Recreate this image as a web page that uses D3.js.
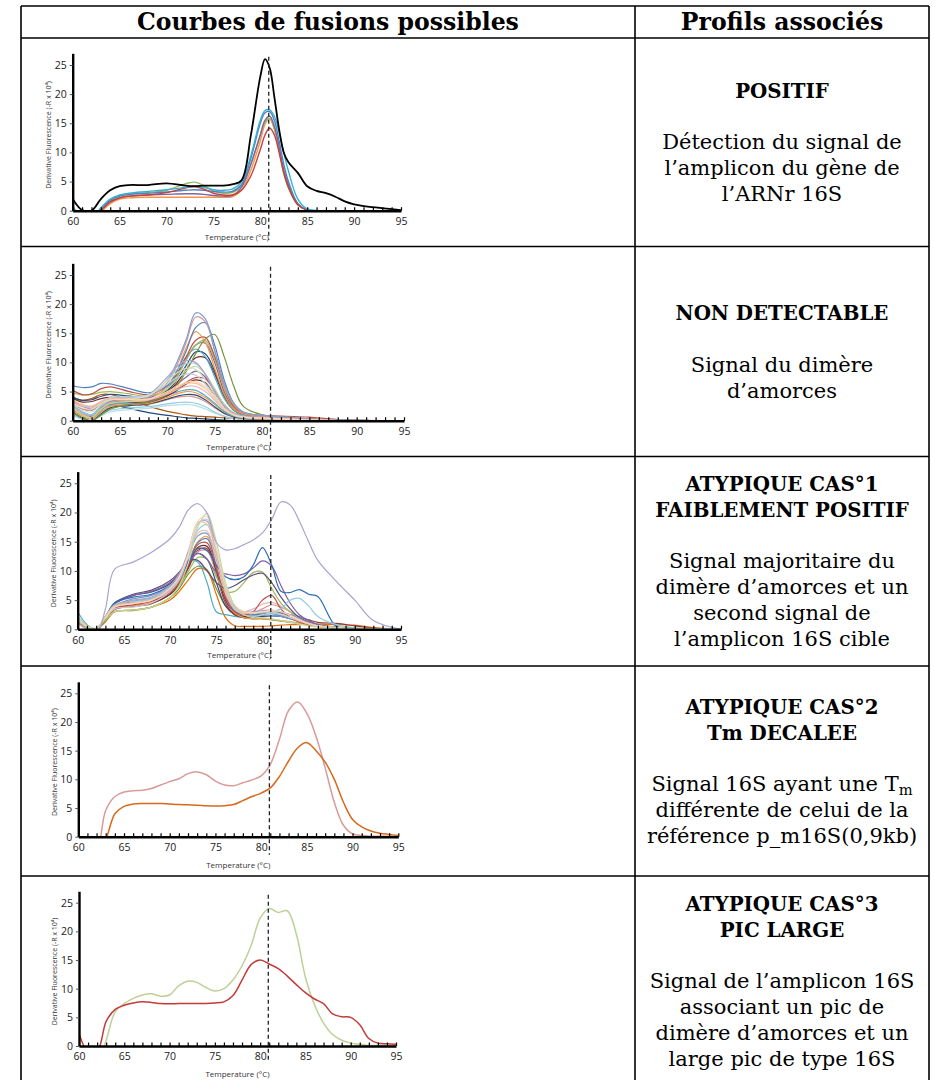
<!DOCTYPE html>
<html lang="fr">
<head>
<meta charset="UTF-8">
<title>Courbes de fusions possibles</title>
<script src="https://cdn.jsdelivr.net/npm/d3@7"></script>
<style>
  body { margin: 0; background: #fff; }
</style>
</head>
<body>
<div id="chart"></div>
<script>
// ---------- texts ----------
const headers = ["Courbes de fusions possibles", "Profils associés"];
const titles = [
  ["POSITIF"],
  ["NON DETECTABLE"],
  ["ATYPIQUE CAS°1", "FAIBLEMENT POSITIF"],
  ["ATYPIQUE CAS°2", "Tm DECALEE"],
  ["ATYPIQUE CAS°3", "PIC LARGE"]
];
const descriptions = [
  ["Détection du signal de", "l’amplicon du gène de", "l’ARNr 16S"],
  ["Signal du dimère", "d’amorces"],
  ["Signal majoritaire du", "dimère d’amorces et un", "second signal de", "l’amplicon 16S cible"],
  ["Signal 16S ayant une T{m}", "différente de celui de la", "référence p_m16S(0,9kb)"],
  ["Signal de l’amplicon 16S", "associant un pic de", "dimère d’amorces et un", "large pic de type 16S"]
];
const xTicks = [60, 65, 70, 75, 80, 85, 90, 95];
const xMinor = [60,61,62,63,64,65,66,67,68,69,70,71,72,73,74,75,76,77,78,79,80,81,82,83,84,85,86,87,88,89,90,91,92,93,94,95];
const yTicks = [0, 5, 10, 15, 20, 25];
const xLabel = "Temperature (°C)";
const yLabel = "Derivative Fluorescence (-R x 10⁴)";
const refTm = 80.9;

// ---------- panel 1 : POSITIF ----------
const temps1 = [60,61,62,63,64,65,66,68,70,72,73,74,75,76,77,78,79,80,80.5,81,81.5,82,82.5,83,84,85,86,87,88,89,90,92,95];
const values1 = [
  [0.2,-1,-1.5,-0.2,1.2,2.0,2.2,2.3,2.3,2.3,2.3,2.3,2.3,2.3,2.4,3.5,7.0,12.0,14.8,15.8,14.0,10.5,6.5,4.0,1.0,0.1,0,0,0,0,0,0,0],
  [0.5,-1,-1.5,0.2,1.8,2.5,2.8,3.1,3.5,4.6,4.9,4.3,3.4,3.0,3.1,4.2,8.0,13.0,15.2,15.8,14.0,10.5,6.5,4.0,1.0,0.1,0,0,0,0,0,0,0],
  [0.3,-1,-1.5,0,1.5,2.2,2.5,2.7,2.8,2.9,2.9,2.8,2.6,2.5,2.6,4.0,8.0,13.0,15.5,16.2,14.5,11.0,7.0,4.5,1.2,0.1,0,0,0,0,0,0,0],
  [0.5,-1,-1.5,0.3,1.8,2.5,2.8,3.0,3.2,3.5,3.6,3.5,3.3,3.2,3.3,4.5,9.0,15.0,16.8,17.0,15.5,12.0,8.0,5.0,1.2,0.1,0,0,0,0,0,0,0],
  [0.3,-1,-1.5,0,1.5,2.2,2.5,2.7,3.1,3.9,4.1,3.7,3.0,2.7,2.7,3.5,6.0,10.5,13.0,14.2,13.0,10.0,6.5,4.0,1.0,0.1,0,0,0,0,0,0,0],
  [0.7,-1,-1.5,0.5,2.0,2.7,3.0,3.3,3.6,4.0,4.2,4.0,3.6,3.5,3.7,5.0,9.5,15.5,17.2,17.3,16.2,13.5,10.0,6.8,2.0,0.3,0.05,0,0,0,0,0,0],
  [2.0,0.1,0,2.0,3.5,4.2,4.4,4.4,4.7,4.3,4.2,4.3,4.3,4.3,4.5,5.2,13.0,23.0,26.0,24.5,19.5,14.0,10.0,8.3,6.5,4.2,3.4,3.0,2.4,1.6,1.1,0.6,0.1]
];
const colors1 = ["#f79646", "#9bbb59", "#8064a2", "#4f81bd", "#c8403c", "#38b0d6", "#000000"];

// ---------- panel 2 : NON DETECTABLE ----------
const temps2 = [60,61,62,63,64,66,68,70,71,72,73,74,75,76,77,78,80,82,85,88,95];
const values2 = [
  [1.5,0.5,0.8,2.3,2.7,2.1,1.4,0.9,0.7,0.5,0.4,0.3,0.2,0.1,0,0,0,0,0,0,0],
  [4.0,3.5,3.8,4.5,4.5,3.5,2.5,1.6,1.3,1.0,0.8,0.7,0.6,0.5,0.4,0.3,0.2,0.1,0,0,0],
  [1.0,0.2,0,0.8,1.5,1.9,2.1,2.6,2.7,2.8,2.6,2.0,1.3,0.7,0.4,0.2,0.1,0,0,0,0],
  [1.2,0.3,0,1.0,1.8,2.2,2.4,2.9,3.1,3.2,3.0,2.4,1.5,0.8,0.4,0.3,0.2,0.1,0,0,0],
  [2.0,1.0,0.5,1.5,2.3,2.6,2.8,3.6,4.0,4.2,4.0,3.3,2.2,1.2,0.6,0.4,0.3,0.2,0,0,0],
  [1.5,0.5,0,1.2,2.2,2.6,2.9,3.7,4.2,4.5,4.4,3.6,2.4,1.3,0.7,0.4,0.3,0.2,0,0,0],
  [1.8,0.8,0.3,1.5,2.5,2.8,3.0,4.0,4.6,5.0,4.8,4.0,2.8,1.5,0.8,0.5,0.3,0.2,0.1,0,0],
  [2.0,1.0,0.5,1.8,2.8,3.0,3.2,4.3,4.9,5.3,5.2,4.3,3.0,1.6,0.8,0.5,0.4,0.2,0.1,0,0],
  [2.8,2.0,1.8,2.8,3.3,3.2,3.2,4.3,5.2,6.3,7.0,6.5,4.5,2.3,1.1,0.7,0.5,0.3,0.1,0,0],
  [3.2,2.5,2.3,3.0,3.5,3.4,3.4,4.5,5.5,6.6,7.4,7.2,5.2,2.8,1.3,0.8,0.6,0.4,0.2,0,0],
  [2.5,1.5,1.0,2.2,3.0,3.2,3.4,5.0,6.2,7.5,8.5,7.5,5.0,2.5,1.2,0.7,0.5,0.3,0.1,0,0],
  [3.8,3.2,3.3,3.8,4.0,3.8,3.8,5.0,6.5,8.8,10.8,10.8,8.0,4.2,1.8,1.0,0.8,0.6,0.3,0.1,0],
  [4.0,3.5,3.6,4.2,4.5,4.2,4.0,5.2,7.0,9.5,11.8,11.5,8.5,4.5,2.0,1.0,0.7,0.4,0.2,0,0],
  [2.8,1.5,1.0,2.5,3.3,3.6,3.8,5.5,8.0,11.0,12.3,11.0,7.5,3.8,1.8,1.0,0.7,0.4,0.2,0,0],
  [3.5,2.5,2.0,3.0,3.8,3.9,4.0,5.5,7.5,10.5,13.0,13.3,10.0,5.0,2.2,1.1,0.8,0.5,0.2,0,0],
  [4.8,4.4,4.5,4.9,5.0,4.6,4.2,5.5,7.5,10.5,13.0,13.8,10.5,5.5,2.3,1.2,0.8,0.5,0.3,0.1,0],
  [5.2,4.5,4.6,5.5,5.8,5.0,4.5,6.0,8.0,11.0,13.8,14.3,11.0,6.0,2.5,1.3,0.9,0.8,0.6,0.2,0],
  [1.5,0.5,0,1.0,2.0,2.8,3.2,4.5,6.0,8.5,11.5,14.0,14.8,11.0,6.0,2.5,1.0,0.6,0.3,0.1,0],
  [2.0,1.0,0.5,2.0,3.0,3.3,3.5,6.0,8.5,12.5,15.3,13.5,9.0,4.5,2.0,1.2,0.8,0.5,0.2,0,0],
  [6.0,5.7,5.8,6.4,6.3,5.5,4.8,6.0,8.5,12.0,16.0,16.8,13.0,7.0,3.0,1.5,0.9,0.6,0.3,0.1,0],
  [2.5,1.2,0.8,2.2,3.2,3.6,4.0,6.5,9.5,13.5,17.8,17.0,12.0,6.0,2.8,1.4,0.9,0.6,0.3,0.1,0],
  [3.0,1.5,1.0,2.5,3.5,3.8,4.2,7.0,10.0,14.0,18.5,17.5,12.0,6.5,3.0,1.5,0.9,0.6,0.3,0.1,0],
  [2.2,1.0,0.5,2.0,3.0,3.3,3.6,5.5,7.0,8.6,9.3,8.0,5.5,2.8,1.3,0.8,0.5,0.3,0.1,0,0],
  [2.5,1.5,1.0,2.5,3.5,3.8,4.3,7.0,8.8,9.8,9.8,8.0,5.0,2.5,1.2,0.7,0.5,0.3,0.1,0,0],
  [3.0,2.0,1.8,3.0,3.8,4.0,4.5,7.5,9.3,10.3,10.0,8.0,5.0,2.5,1.2,0.8,0.6,0.4,0.2,0,0],
  [3.3,2.5,2.3,3.3,4.0,4.1,4.4,6.3,7.4,8.0,7.8,6.3,4.0,2.0,1.0,0.6,0.4,0.3,0.1,0,0],
  [2.8,1.8,1.5,2.8,3.6,3.8,4.3,6.8,8.2,9.0,8.8,7.0,4.5,2.2,1.0,0.6,0.4,0.3,0.1,0,0],
  [3.5,2.8,2.5,3.3,3.8,3.7,3.7,4.8,5.6,6.4,6.4,5.5,3.8,2.0,1.0,0.6,0.5,0.3,0.1,0,0],
  [3.2,2.6,2.4,3.2,3.7,3.6,3.6,4.6,5.3,5.9,5.9,5.0,3.5,1.9,1.0,0.6,0.4,0.3,0.1,0,0],
  [3.0,2.2,2.0,3.0,3.6,3.6,3.7,5.0,5.9,6.6,6.7,5.8,4.0,2.1,1.0,0.6,0.5,0.3,0.1,0,0]
];
const colors2 = ["#1f497d","#b65708","#b7dee8","#93cddd","#d99694","#2c4d75","#f79646","#4bacc6",
  "#772c2a","#c0504d","#8064a2","#772c2a","#2c4d75","#4bacc6","#8064a2","#9bbb59","#c0504d","#77933c",
  "#f79646","#4f81bd","#d99694","#7f9fcf","#c3d69b","#93cddd","#b3a2c7","#b9cde5","#d7e4bd","#fac090",
  "#e6b9b8","#fcd5b5"];

// ---------- panel 3 : ATYPIQUE CAS 1 ----------
const temps3 = [60,61,62,63,64,66,68,70,71,72,73,74,75,76,77,78,79,80,81,82,83,84,85,86,88,90,92,95];
const values3 = [
  [1.4,0.4,0,1.4,3.0,3.3,3.8,5.4,7.0,9.5,10.8,10.2,7.0,4.0,2.5,2.0,1.8,1.8,1.6,1.4,1.2,1.0,0.7,0.5,0.2,0.1,0,0],
  [1.2,0.3,0,1.3,3.0,3.3,3.8,5.0,6.5,8.5,10.4,10.0,6.0,2.0,0.6,0.5,0.5,0.5,0.6,0.7,0.8,0.8,0.9,0.9,0.8,0.7,0.3,0],
  [3.0,0.8,0,2.2,4.0,4.5,5.0,7.0,9.0,11.5,11.5,8.0,3.0,2.5,2.2,2.0,2.0,2.5,2.7,2.3,1.8,1.3,0.9,0.5,0.2,0,0,0],
  [1.8,0.5,0.1,2.0,4.5,5.8,6.4,7.8,9.5,11.8,13.0,12.0,8.0,4.0,2.5,2.0,2.0,2.2,2.3,2.2,1.8,1.4,1.0,0.6,0.3,0.1,0,0],
  [1.5,0.4,0.1,1.6,3.4,3.9,4.4,6.0,7.5,10.5,13.5,13.8,9.5,4.5,2.5,2.2,2.2,2.6,3.0,2.8,2.4,2.0,1.6,1.2,1.0,0.6,0.2,0],
  [1.6,0.4,0.1,1.8,3.7,4.5,5.0,6.6,8.2,11.0,13.3,13.4,9.5,5.0,3.0,2.6,2.8,3.5,4.2,3.8,3.0,2.0,1.3,0.8,0.4,0.1,0,0],
  [1.5,0.4,0.1,1.6,3.5,4.0,4.5,6.0,7.8,10.8,14.0,14.2,10.0,5.0,2.8,2.2,2.3,2.8,3.0,2.5,2.0,1.5,1.0,0.6,0.3,0.1,0,0],
  [1.6,0.4,0.1,1.7,3.5,4.0,4.6,6.4,8.2,11.5,15.0,15.9,11.0,5.5,2.8,2.0,1.8,1.8,1.7,1.5,1.3,1.0,0.7,0.5,0.3,0.1,0,0],
  [1.6,0.4,0.1,1.7,3.8,4.8,5.3,6.8,8.5,11.5,14.8,15.5,11.0,5.5,3.0,2.5,2.5,2.8,3.0,2.8,2.5,2.2,1.5,0.8,0.3,0.1,0,0],
  [1.7,0.5,0.1,1.9,4.0,5.2,5.8,7.4,9.3,12.5,16.0,16.4,12.0,6.0,3.2,2.6,2.4,2.4,2.4,2.2,1.8,1.4,1.0,0.6,0.3,0.1,0,0],
  [1.8,0.5,0.1,1.9,3.8,4.3,4.8,6.8,8.8,12.5,16.5,16.8,11.5,6.0,3.5,3.0,3.5,4.3,4.6,4.0,3.0,2.0,1.2,0.7,0.3,0.1,0,0],
  [1.7,0.5,0.1,1.8,3.6,4.2,4.8,6.3,8.0,11.0,14.5,14.8,10.5,5.5,3.0,2.5,3.0,5.0,5.8,3.5,2.0,1.2,0.8,0.5,0.3,0.1,0,0],
  [1.5,0.4,0.1,1.5,3.0,3.2,3.8,5.5,7.5,10.0,12.3,12.0,9.0,6.5,6.5,8.0,9.7,9.8,7.0,4.5,3.0,2.0,1.2,0.7,0.3,0.1,0,0],
  [1.7,0.5,0.1,2.0,4.5,6.0,6.7,8.3,9.8,11.8,11.8,10.0,8.0,7.0,7.5,8.5,9.3,9.6,8.0,5.5,3.5,2.0,1.2,0.7,0.3,0.1,0,0],
  [1.8,0.5,0.1,2.0,4.3,5.8,6.5,8.0,9.5,11.5,13.0,12.0,9.8,9.5,9.2,9.5,10.5,11.7,10.8,7.5,4.5,2.5,1.5,0.8,0.3,0.1,0,0],
  [2.0,0.6,0.1,2.2,4.5,5.5,6.0,7.5,9.0,11.5,13.8,13.5,11.0,9.0,8.5,9.0,11.0,14.0,11.0,6.5,6.3,6.8,6.0,5.6,0.5,0.2,0,0],
  [2.2,0.6,0.1,2.2,4.2,4.8,5.3,7.2,9.2,13.0,17.0,17.9,13.0,7.5,4.0,3.0,2.8,2.8,3.0,3.5,5.0,5.3,4.0,2.2,0.8,0.3,0.1,0],
  [1.9,0.5,0.1,2.0,4.0,5.0,5.5,7.5,9.5,13.5,18.2,18.5,13.0,7.0,3.8,3.0,3.0,3.2,3.3,3.0,2.5,1.8,1.1,0.6,0.3,0.1,0,0],
  [2.0,0.6,0.1,2.2,4.0,4.5,5.0,7.0,9.0,13.0,18.3,18.0,12.5,6.5,3.5,2.8,2.8,3.0,3.0,2.6,2.0,1.4,0.9,0.6,0.3,0.1,0,0],
  [1.8,0.5,0.1,2.0,3.5,3.8,4.5,6.5,8.5,12.5,18.0,18.8,13.5,7.0,3.5,2.5,2.2,2.5,2.8,2.5,2.0,1.5,1.0,0.6,0.3,0.1,0,0],
  [1.8,0.5,0.1,2.0,3.8,4.4,5.0,7.0,9.0,13.0,18.5,19.3,14.0,7.5,4.0,3.0,2.8,3.0,3.2,3.0,2.4,1.6,1.0,0.6,0.3,0.1,0,0],
  [1.5,0.4,0.2,1.8,3.0,3.3,3.8,5.5,7.5,11.5,17.5,19.8,15.0,8.0,4.0,2.5,2.0,2.0,1.8,1.5,1.2,0.9,0.6,0.4,0.2,0.1,0,0],
  [1.0,0,-1,3.5,10.3,11.5,13.2,15.5,17.5,20.5,21.5,19.9,14.9,13.6,13.8,14.5,15.3,16.5,18.8,21.8,21.3,18.5,15.0,11.8,8.2,5.0,1.5,0]
];
const colors3 = ["#77933c","#e46c0a","#4bacc6","#2c4d75","#943634","#d99694","#772c2a","#f79646","#4f81bd",
  "#729aca","#e6b9b8","#c0504d","#9bbb59","#604a7b","#7f5fa8","#2e6db4","#93cddd","#b3a2c7","#fac090",
  "#b9cde5","#fcd5b5","#c3d69b","#a9a3d1"];

// ---------- panels 4 and 5 ----------
const temps45 = [60,61,62,63,64,65,66,67,68,69,70,71,72,73,74,75,76,77,78,79,80,81,82,83,84,85,86,87,88,89,90,91,92,93,94,95];
const values4 = [
  [0,-2,-2,4.6,7.0,7.8,8.0,8.1,8.4,9.0,9.6,10.1,11.0,11.3,10.8,9.7,9.0,8.9,9.4,9.9,10.6,12.6,17.0,22.0,23.5,21.5,17.5,12.0,6.0,2.0,0.5,0.2,0.1,0.1,0.1,0.1],
  [-2,-3,-3,-0.5,4.0,5.3,5.7,5.8,5.8,5.8,5.7,5.6,5.55,5.5,5.4,5.35,5.4,5.6,6.3,7.0,7.6,8.5,10.5,13.2,15.5,16.4,15.0,13.0,10.0,6.0,3.0,1.7,1.0,0.6,0.4,0.2]
];
const colors4 = ["#d99a98", "#d8691c"];
const values5 = [
  [-3,-3,-3,1.0,6.0,7.4,8.3,8.9,9.1,8.7,8.9,10.5,11.3,11.1,10.2,9.6,10.0,11.5,14.0,17.5,22.3,24.0,23.3,23.6,19.5,12.0,7.2,4.0,2.0,1.0,0.5,0.3,0.1,0.1,0.1,0.1],
  [2.2,-1,-1,4.3,6.4,7.1,7.5,7.7,7.6,7.4,7.35,7.4,7.4,7.4,7.4,7.5,7.7,8.8,11.5,14.2,15.0,14.3,13.5,12.2,10.7,9.3,8.2,7.4,5.6,5.1,5.0,3.7,1.3,0.5,0.4,0.3]
];
const colors5 = ["#bdd197", "#c43a3a"];

// ---------- layout ----------
const W = 935, H = 1080;
const serif = "'DejaVu Serif', 'Liberation Serif', serif";
const sans = "'Open Sans', 'DejaVu Sans', sans-serif";
const tbl = { left: 21, right: 929, top: 6, head: 38, split: 635, rows: [38, 246.5, 456.5, 666, 876, 1086] };
const panels = [
  { x0: 72.7, x1: 401, y0: 210.7, y25: 65, below: 29 },
  { x0: 72.7, x1: 404, y0: 420.7, y25: 275, below: 29 },
  { x0: 77.7, x1: 401, y0: 629.3, y25: 483.3, below: 29 },
  { x0: 78.3, x1: 398.3, y0: 836.7, y25: 693.3, below: 18 },
  { x0: 79, x1: 396, y0: 1046, y25: 902.7, below: 16 }
];

const svg = d3.select("#chart").append("svg").attr("width", W).attr("height", H);

function fitSize(text, weight, target) {
  const t = svg.append("text").attr("font-family", serif).attr("font-weight", weight)
    .attr("font-size", 20).text(text);
  const w = t.node().getComputedTextLength();
  t.remove();
  return 20 * target / w;
}
const headSize = fitSize(headers[0], "bold", 382);
const titleSize = fitSize("FAIBLEMENT POSITIF", "bold", 254);
const bodySize = fitSize("dimère d’amorces et un", "normal", 253);

// table grid
const grid = svg.append("g").attr("stroke", "#000").attr("stroke-width", 1.6);
[tbl.top, ...tbl.rows.slice(0, 5)].forEach(yy => {
  grid.append("line").attr("x1", tbl.left).attr("x2", tbl.right).attr("y1", yy).attr("y2", yy);
});
[tbl.left, tbl.split, tbl.right].forEach(xx => {
  grid.append("line").attr("x1", xx).attr("x2", xx).attr("y1", tbl.top).attr("y2", H);
});

// header
svg.selectAll(".head").data(headers).join("text")
  .attr("x", (d, i) => i === 0 ? (tbl.left + tbl.split) / 2 : (tbl.split + tbl.right) / 2)
  .attr("y", (tbl.top + tbl.head) / 2).attr("dy", "0.36em")
  .attr("text-anchor", "middle").attr("font-family", serif).attr("font-weight", "bold")
  .attr("font-size", headSize).text(d => d);

// right column texts
const cx = (tbl.split + tbl.right) / 2;
const lineH = 26, gap = 51;
titles.forEach((tl, i) => {
  const desc = descriptions[i];
  const block = (tl.length - 1) * lineH + gap + (desc.length - 1) * lineH;
  const rowMid = (tbl.rows[i] + tbl.rows[i + 1]) / 2;
  const start = rowMid - block / 2;
  tl.forEach((s, k) => {
    svg.append("text").attr("x", cx).attr("y", start + k * lineH).attr("dy", "0.36em")
      .attr("text-anchor", "middle").attr("font-family", serif).attr("font-weight", "bold")
      .attr("font-size", titleSize).text(s);
  });
  const b0 = start + (tl.length - 1) * lineH + gap;
  desc.forEach((s, k) => {
    const t = svg.append("text").attr("x", cx).attr("y", b0 + k * lineH).attr("dy", "0.36em")
      .attr("text-anchor", "middle").attr("font-family", serif).attr("font-size", bodySize);
    s.split(/(\{[^}]+\})/).filter(p => p.length).forEach(p => {
      if (p[0] === "{") {
        t.append("tspan").attr("font-size", bodySize * 0.7).attr("dy", "0.3em").text(p.slice(1, -1));
      } else {
        t.append("tspan").text(p);
      }
    });
  });
});

// charts
function drawPanel(i, temps, values, colors, width) {
  const p = panels[i];
  const pxPerUnit = (p.y0 - p.y25) / 25;
  const x = d3.scaleLinear().domain([60, 95]).range([p.x0, p.x1]);
  const y = d3.scaleLinear().domain([0, 27]).range([p.y0, p.y0 - 27 * pxPerUnit]);
  const g = svg.append("g");

  g.append("clipPath").attr("id", "clip" + i).append("rect")
    .attr("x", p.x0).attr("y", y(30)).attr("width", p.x1 - p.x0).attr("height", p.y0 - y(30));

  const line = d3.line()
    .x((d, j) => x(temps[j]))
    .y(d => y(d))
    .curve(d3.curveCatmullRom.alpha(0.5));

  g.append("g").attr("clip-path", `url(#clip${i})`)
    .selectAll("path").data(values).join("path")
    .attr("d", line).attr("fill", "none")
    .attr("stroke", (d, j) => colors[j])
    .attr("stroke-width", (d, j) => colors[j] === "#000000" ? 1.8 : width);

  // reference Tm
  g.append("line")
    .attr("x1", x(refTm)).attr("x2", x(refTm))
    .attr("y1", y(26.4)).attr("y2", p.y0 + p.below)
    .attr("stroke", "#222").attr("stroke-width", 1.3).attr("stroke-dasharray", "4,3");

  // x axis : minor ticks then labels
  const xa = g.append("g").attr("transform", `translate(0,${p.y0})`)
    .call(d3.axisBottom(x).tickValues(xMinor).tickSizeInner(-3.5).tickSizeOuter(0).tickFormat(""));
  xa.select(".domain").attr("stroke", "#000").attr("stroke-width", 2.4);
  xa.selectAll(".tick line").attr("stroke", "#000").attr("stroke-width", 1.2);

  const xl = g.append("g").attr("transform", `translate(0,${p.y0})`)
    .call(d3.axisBottom(x).tickValues(xTicks).tickSize(0).tickPadding(7));
  xl.select(".domain").remove();
  xl.selectAll("text").attr("font-family", sans).attr("font-size", 10.5).attr("fill", "#222");

  // y axis
  const ya = g.append("g").attr("transform", `translate(${p.x0},0)`)
    .call(d3.axisLeft(y).tickValues(yTicks).tickSizeInner(3).tickSizeOuter(0).tickPadding(3));
  ya.select(".domain").attr("stroke", "#000").attr("stroke-width", 2.4);
  ya.selectAll(".tick line").attr("stroke", "#555");
  ya.selectAll("text").attr("font-family", sans).attr("font-size", 10.5).attr("fill", "#222");

  g.append("text")
    .attr("x", (p.x0 + p.x1) / 2).attr("y", p.y0 + (i < 3 ? 26 : 28)).attr("dy", "0.35em")
    .attr("text-anchor", "middle").attr("font-family", sans).attr("font-size", 8)
    .attr("fill", "#333").text(xLabel);

  g.append("text")
    .attr("transform", `translate(${p.x0 - 24},${y(13)}) rotate(-90)`)
    .attr("dy", "0.35em").attr("text-anchor", "middle")
    .attr("font-family", sans).attr("font-size", 7).attr("fill", "#333").text(yLabel);
}

drawPanel(0, temps1, values1, colors1, 1.4);
drawPanel(1, temps2, values2, colors2, 1.2);
drawPanel(2, temps3, values3, colors3, 1.2);
drawPanel(3, temps45, values4, colors4, 1.5);
drawPanel(4, temps45, values5, colors5, 1.5);
</script>
</body>
</html>
